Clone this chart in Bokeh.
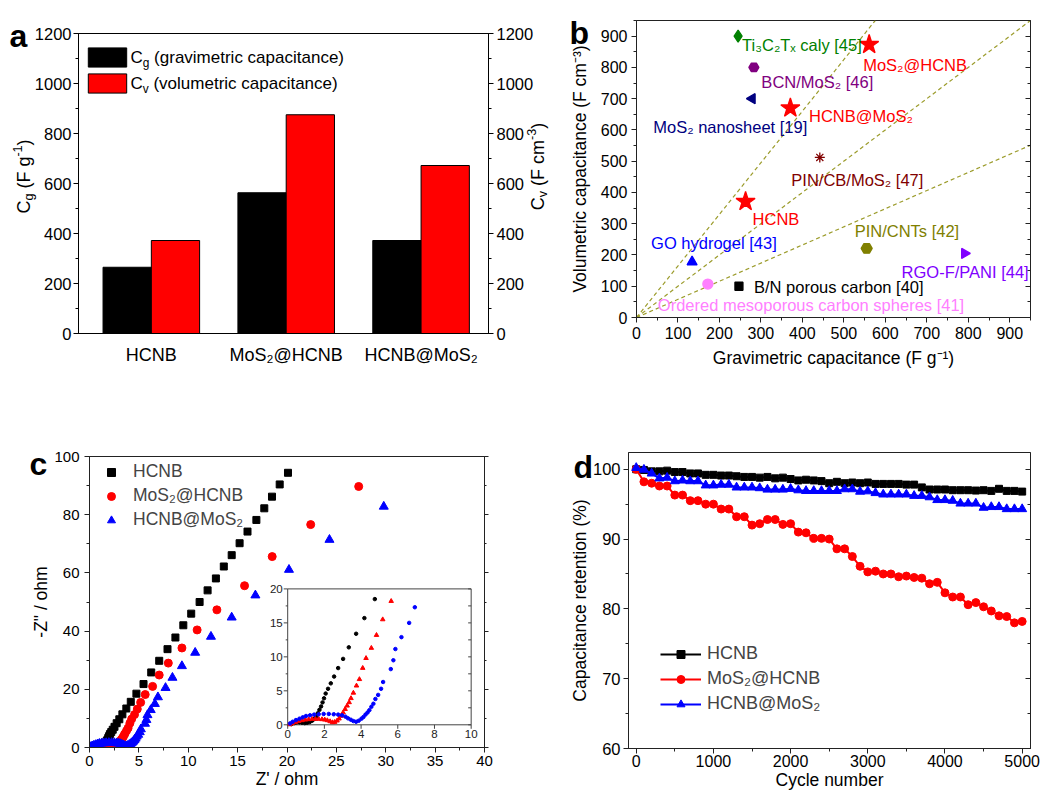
import numpy as np
from bokeh.plotting import figure
from bokeh.models import (Range1d, LinearAxis, FixedTicker, SingleIntervalTicker, Label,
                          Legend, LegendItem, Slope, ColumnDataSource, CustomJSTickFormatter, GridBox)
from bokeh.layouts import column
from bokeh.core.properties import value
from bokeh.embed import file_html
from bokeh.resources import INLINE

FONT = "Liberation Sans"

# ---------------- data ----------------
# (a) capacitance bars
cats_a = ["HCNB", "MoS₂@HCNB", "HCNB@MoS₂"]
cg_a = [265, 563, 372]
cv_a = [372, 875, 672]

# (b) comparison map
b_names = ["Ti₃C₂Tₓ caly [45]", "MoS₂@HCNB", "BCN/MoS₂ [46]", "MoS₂ nanosheet [19]",
           "HCNB@MoS₂", "PIN/CB/MoS₂ [47]", "HCNB", "PIN/CNTs [42]", "RGO-F/PANI [44]",
           "GO hydrogel [43]", "B/N porous carbon [40]", "Ordered mesoporous carbon spheres [41]"]
b_cg = [245, 561, 283, 279, 371, 442, 263, 555, 791, 134, 247, 172]
b_cv = [900, 873, 800, 700, 670, 512, 371, 221, 205, 178, 100, 107]
b_slopes = [1.65, 1.0, 0.58]

# (c) Nyquist plots
hcnb_zr = [0.2, 0.35, 0.49, 0.64, 0.78, 0.93, 1.07, 1.2, 1.33, 1.45, 1.55, 1.64, 1.73, 1.82, 1.9,
           1.98, 2.07, 2.2, 2.35, 2.53, 2.75, 3.02, 3.33, 3.73, 4.18, 4.75, 5.47, 6.25, 7.06, 7.9,
           8.7, 9.5, 10.3, 11.15, 11.96, 12.8, 13.6, 14.4, 15.2, 16.0, 16.9, 17.7, 18.48, 19.26, 20.1]
hcnb_zi = [0.1, 0.25, 0.35, 0.35, 0.3, 0.25, 0.3, 0.4, 0.6, 0.85, 1.2, 1.7, 2.2, 2.7, 3.3,
           3.9, 4.6, 5.3, 6.1, 7.1, 8.35, 9.7, 11.4, 13.4, 15.7, 18.5, 21.8, 25.8, 29.8, 33.8,
           37.8, 42.0, 46.0, 50.0, 54.0, 58.1, 62.2, 66.1, 70.2, 74.2, 78.2, 82.2, 86.2, 90.4, 94.4]
mh_zr = [0.1, 0.24, 0.42, 0.6, 0.78, 0.96, 1.15, 1.33, 1.51, 1.69, 1.87, 2.02, 2.16, 2.31, 2.44,
         2.56, 2.69, 2.8, 2.91, 3.02, 3.13, 3.24, 3.35, 3.45, 3.58, 3.75, 3.91, 4.09, 4.27, 4.56,
         4.84, 5.18, 5.64, 6.39, 7.06, 7.98, 9.36, 10.9, 12.9, 15.7, 18.5, 22.4, 27.26]
mh_zi = [0.05, 0.2, 0.4, 0.55, 0.65, 0.75, 0.8, 0.85, 0.85, 0.85, 0.8, 0.75, 0.65, 0.5, 0.35,
         0.4, 0.6, 0.9, 1.3, 1.8, 2.3, 2.8, 3.3, 3.9, 4.7, 5.75, 6.7, 8.35, 9.8, 11.3,
         13.2, 15.5, 18.2, 21.0, 24.9, 29.0, 34.2, 40.4, 47.3, 55.6, 65.6, 76.6, 89.7]
hm_zr = [0.13, 0.27, 0.45, 0.64, 0.82, 1.0, 1.22, 1.44, 1.69, 1.96, 2.24, 2.51, 2.75, 2.96, 3.15,
         3.29, 3.44, 3.58, 3.73, 3.87, 4.02, 4.13, 4.24, 4.35, 4.45, 4.56, 4.67, 4.78, 4.93, 5.09,
         5.2, 5.62, 5.76, 5.87, 6.2, 6.62, 6.93, 7.7, 8.4, 9.36, 10.7, 12.3, 14.4, 16.8, 20.2, 24.3, 29.8]
hm_zi = [0.2, 0.45, 0.7, 0.9, 1.1, 1.3, 1.4, 1.5, 1.55, 1.6, 1.6, 1.55, 1.5, 1.4, 1.2,
         0.95, 0.75, 0.55, 0.45, 0.6, 0.9, 1.15, 1.5, 1.8, 2.15, 2.65, 3.1, 3.8, 4.4, 5.3,
         6.3, 8.2, 9.5, 11.15, 12.9, 15.0, 17.3, 20.5, 24.0, 28.0, 32.6, 38.1, 44.7, 52.3, 61.1, 71.4, 82.8]
inset_xlim = [0, 10]
inset_ylim = [0, 20]
inset_xticks = [0, 2, 4, 6, 8, 10]
inset_yticks = [0, 5, 10, 15, 20]
inset_yminor = [2.5, 7.5, 12.5, 17.5]

# (d) cycling stability
cycles = [0, 100, 200, 300, 400, 500, 600, 700, 800, 900, 1000, 1100, 1200, 1300, 1400, 1500,
          1600, 1700, 1800, 1900, 2000, 2100, 2200, 2300, 2400, 2500, 2600, 2700, 2800, 2900,
          3000, 3100, 3200, 3300, 3400, 3500, 3600, 3700, 3800, 3900, 4000, 4100, 4200, 4300,
          4400, 4500, 4600, 4700, 4800, 4900, 5000]
ret_hcnb = [100.0, 99.9, 99.7, 99.7, 99.8, 99.6, 99.6, 99.4, 99.4, 99.2, 99.2, 99.1, 99.1, 99.0,
            98.9, 98.9, 98.8, 98.9, 98.7, 98.8, 98.6, 98.4, 98.5, 98.4, 98.3, 98.0, 98.2, 98.0,
            98.1, 98.0, 98.1, 97.9, 97.9, 97.9, 97.9, 97.8, 97.8, 97.4, 97.1, 97.1, 97.1, 97.0,
            97.0, 97.0, 96.95, 97.0, 96.9, 97.2, 96.9, 96.9, 96.8]
ret_mh = [100.0, 98.2, 98.0, 97.6, 97.6, 96.3, 96.3, 95.5, 95.5, 95.0, 95.0, 94.3, 94.3, 93.2,
          93.2, 92.0, 92.2, 92.8, 92.8, 92.1, 92.2, 91.0, 90.9, 90.1, 90.1, 90.0, 88.6, 88.6,
          87.5, 86.1, 85.3, 85.4, 85.0, 85.0, 84.6, 84.7, 84.5, 84.4, 83.6, 83.8, 82.3, 81.7,
          81.7, 80.6, 80.9, 80.3, 79.7, 79.0, 78.9, 78.0, 78.2]
ret_hm = [100.2, 99.95, 99.4, 98.7, 98.8, 98.3, 98.4, 98.3, 98.3, 97.7, 97.7, 97.8, 97.8, 97.4,
          97.4, 97.4, 97.3, 97.1, 97.1, 97.1, 97.2, 97.0, 96.9, 96.9, 96.9, 96.9, 96.9, 97.15,
          97.15, 96.8, 96.85, 96.6, 96.4, 96.4, 96.4, 96.4, 96.2, 96.2, 96.0, 95.6, 95.6, 95.5,
          95.1, 95.1, 95.1, 94.5, 94.6, 94.6, 94.3, 94.3, 94.3]

# ---------------- styles for (b) ----------------
b_markers = ["diamond", "star", "hex", "triangle", "star", "asterisk", "star", "hex",
             "triangle", "triangle", "square", "circle"]
b_angles = [0, 0, 0, np.pi / 2, 0, 0, 0, 0, -np.pi / 2, 0, 0, 0]
b_sizes = [12, 20, 10, 10, 20, 10, 20, 11, 10, 10, 8, 10]
b_colors = ["#008000", "#ff0000", "#800080", "#000080", "#ff0000", "#800000", "#ff0000",
            "#808000", "#8000ff", "#0000ff", "#000000", "#ff80ff"]
b_dx = [4, -6, 7.5, -99, 18.6, -28.5, 7, -12, -63, -41, 15, -50]
b_dy = [9, 20, 15, 28.5, 7.5, 23, 17.5, -17, 19, -19, 1, 21]

# ---------------- helpers ----------------
AW = {' ': 278, '(': 333, ')': 333, '-': 333, '/': 278, '@': 1015, '[': 278, ']': 278, '%': 889,
      'C': 722, 'F': 611, 'a': 556, 'b': 556, 'c': 500, 'd': 556, 'e': 556, 'g': 556, 'i': 222,
      'l': 222, 'm': 833, 'n': 556, 'o': 556, 'p': 556, 'r': 333, 's': 500, 't': 278, 'u': 556,
      'v': 500, 'y': 500}


def tw(s, size):
    return sum(AW.get(ch, 556) for ch in s) * size / 1000.0


def rich(p, segs, x, y, size, vertical=False, align="center", color="black"):
    """Text with sub/superscripts; (x, y) in page pixels (y downward)."""
    small = size * 0.7
    items, total = [], 0.0
    for t, k in segs:
        s = size if k == "n" else small
        w = tw(t, s)
        items.append((t, k, s, w))
        total += w
    pos = -total / 2 if align == "center" else 0.0
    for t, k, s, w in items:
        lead = len(t) - len(t.lstrip(" "))
        txt = t.strip(" ")
        off = tw(" " * lead, s)
        shift = {"n": 0.0, "sub": -0.3 * size, "sup": 0.32 * size}[k]
        if not vertical:
            lx, ly, ang = x + pos + off, y - shift, 0.0
        else:
            lx, ly, ang = x - shift, y - (pos + off), np.pi / 2
        p.add_layout(Label(x=lx, y=ly, text=txt, angle=ang,
                           text_align="left", text_baseline="middle", text_font=FONT,
                           text_font_size=f"{s:.1f}px", text_color=color))
        pos += w


def make_fig(fw, fh, xr, yr, bl, br, bt, bb, outline="black"):
    p = figure(frame_width=fw, frame_height=fh, x_range=xr, y_range=yr,
               min_border_left=bl, min_border_right=br, min_border_top=bt, min_border_bottom=bb,
               output_backend="svg", toolbar_location=None, title=None)
    p.xgrid.visible = False
    p.ygrid.visible = False
    p.outline_line_color = outline
    p.outline_line_alpha = 1.0
    p.background_fill_color = "white"
    p.border_fill_color = "white"
    return p


def style_axis(ax, tick_size, label_size=17, color="black", tout=5, tin=0, mout=3, mint=0,
               standoff=3, lstandoff=0):
    ax.axis_line_color = color
    ax.major_tick_line_color = color
    ax.minor_tick_line_color = color
    ax.major_tick_out = tout
    ax.major_tick_in = tin
    ax.minor_tick_out = mout
    ax.minor_tick_in = mint
    ax.major_label_text_font = FONT
    ax.major_label_text_font_size = f"{tick_size}px"
    ax.major_label_text_color = "black"
    ax.major_label_standoff = standoff
    ax.axis_label_text_font = FONT
    ax.axis_label_text_font_size = f"{label_size}px"
    ax.axis_label_text_font_style = "normal"
    ax.axis_label_text_color = "black"
    ax.axis_label_standoff = lstandoff


empty_fmt = CustomJSTickFormatter(code="return ''")
AX = "#222222"

# ---------------- panel a ----------------
pa = make_fig(410, 300, Range1d(0.46, 3.5), Range1d(0, 1200), 78, 72, 33, 45)
pa.extra_y_ranges = {"cv": Range1d(0, 1200)}
xa = np.arange(1, len(cats_a) + 1)
bw = 0.358
r_cg = pa.vbar(x=xa - bw / 2, width=bw, top=cg_a, fill_color="black", line_color="black")
r_cv = pa.vbar(x=xa + bw / 2, width=bw, top=cv_a, fill_color="#ff0000", line_color="black",
               y_range_name="cv")
xax = pa.xaxis[0]
xax.ticker = FixedTicker(ticks=[float(v) for v in xa])
xax.major_label_overrides = {int(v): c for v, c in zip(xa, cats_a)}
style_axis(xax, 18, tout=0, mout=0, standoff=11)
yax = pa.yaxis[0]
yax.ticker = SingleIntervalTicker(interval=200, num_minor_ticks=2)
style_axis(yax, 16.5, standoff=2)
rax = LinearAxis(y_range_name="cv", ticker=SingleIntervalTicker(interval=200, num_minor_ticks=2))
style_axis(rax, 16.5, standoff=3)
pa.add_layout(rax, "right")
leg_a = Legend(items=[LegendItem(label=" ", renderers=[r_cg]), LegendItem(label=" ", renderers=[r_cv])],
               location=(4.5, 238), padding=0, margin=0, spacing=2, glyph_width=48, glyph_height=24,
               label_height=24, label_standoff=0, border_line_alpha=0, background_fill_alpha=0,
               label_text_font_size="10px")
pa.add_layout(leg_a)

# ---------------- panel b ----------------
pb = make_fig(394, 297, Range1d(0, 950), Range1d(0, 950), 76, 15, 20, 61, outline=AX)
for s in b_slopes:
    pb.add_layout(Slope(gradient=s, y_intercept=0, line_color="#9c9c2c", line_dash="4 3",
                        line_width=1.2, level="underlay"))
src_b = ColumnDataSource(dict(x=b_cg, y=b_cv, name=b_names, marker=b_markers, color=b_colors,
                              size=b_sizes, angle=b_angles, dx=b_dx, dy=b_dy))
pb.scatter(x="x", y="y", marker="marker", size="size", angle="angle", fill_color="color",
           line_color="color", line_width=1.3, source=src_b)
pb.text(x="x", y="y", text="name", x_offset="dx", y_offset="dy", text_color="color",
        text_font=value(FONT), text_font_size=value("16.5px"), text_baseline="middle",
        text_align="left", source=src_b)
bx = pb.xaxis[0]
bx.ticker = SingleIntervalTicker(interval=100, num_minor_ticks=2)
bx.axis_label = "Gravimetric capacitance (F g⁻¹)"
style_axis(bx, 16, 17.5, color=AX, standoff=4, lstandoff=6)
by = pb.yaxis[0]
by.ticker = SingleIntervalTicker(interval=100, num_minor_ticks=2)
by.axis_label = "Volumetric capacitance (F cm⁻³)"
style_axis(by, 16, 17.5, color=AX, standoff=4, lstandoff=8)
brax = LinearAxis(ticker=SingleIntervalTicker(interval=100, num_minor_ticks=2), formatter=empty_fmt)
style_axis(brax, 10, color=AX, tout=0, tin=5, mout=0, mint=3, standoff=0)
pb.add_layout(brax, "right")

# ---------------- panel c ----------------
pc = make_fig(395, 291, Range1d(0, 40), Range1d(0, 100), 89, 76, 78, 45, outline=AX)
rc1 = pc.scatter(hcnb_zr, hcnb_zi, marker="square", size=7, color="black")
rc2 = pc.scatter(mh_zr, mh_zi, marker="circle", size=8, color="#ff0000")
rc3 = pc.scatter(hm_zr, hm_zi, marker="triangle", size=9, color="#0000ff")
cx = pc.xaxis[0]
cx.ticker = SingleIntervalTicker(interval=5, num_minor_ticks=2)
cx.axis_label = "Z' / ohm"
style_axis(cx, 15, 17.5, color=AX, standoff=3, lstandoff=0)
cy = pc.yaxis[0]
cy.ticker = SingleIntervalTicker(interval=20, num_minor_ticks=2)
cy.axis_label = '-Z" / ohm'
style_axis(cy, 15, 17.5, color=AX, standoff=5, lstandoff=0)
crax = LinearAxis(ticker=SingleIntervalTicker(interval=20, num_minor_ticks=2), formatter=empty_fmt)
style_axis(crax, 10, color=AX, tout=4, tin=0, mout=2, mint=0, standoff=0)
pc.add_layout(crax, "right")

# inset (sub-coordinate system inside panel c)
sub = pc.subplot(x_source=Range1d(*inset_xlim), y_source=Range1d(*inset_ylim),
                 x_target=Range1d(20.07, 38.65), y_target=Range1d(7.8, 54.5))
sub.quad(left=[inset_xlim[0]], right=[inset_xlim[1]], bottom=[inset_ylim[0]], top=[inset_ylim[1]],
         fill_color="white", line_color="#444444", line_width=1)


def in_inset(xs, ys):
    xs, ys = np.asarray(xs), np.asarray(ys)
    m = (xs <= inset_xlim[1]) & (ys <= inset_ylim[1])
    return xs[m], ys[m]


ix, iy = in_inset(hcnb_zr, hcnb_zi)
sub.scatter(ix, iy, marker="circle", size=3.5, color="black")
ix, iy = in_inset(mh_zr, mh_zi)
sub.scatter(ix, iy, marker="triangle", size=4.5, color="#ff0000")
ix, iy = in_inset(hm_zr, hm_zi)
sub.scatter(ix, iy, marker="circle", size=3.5, color="#0000ff")
sub.ray(x=inset_xticks, y=[inset_ylim[0]] * len(inset_xticks), length=4, length_units="screen",
        angle=-np.pi / 2, line_color="#444444")
sub.ray(x=[inset_xlim[0]] * len(inset_yticks), y=inset_yticks, length=4, length_units="screen",
        angle=np.pi, line_color="#444444")
sub.ray(x=[inset_xlim[0]] * len(inset_yminor), y=inset_yminor, length=2, length_units="screen",
        angle=np.pi, line_color="#444444")
sub.ray(x=[inset_xlim[1]] * len(inset_yticks + inset_yminor), y=inset_yticks + inset_yminor,
        length=3, length_units="screen", angle=np.pi, line_color="#444444")
sub.text(x=inset_xticks, y=[inset_ylim[0]] * len(inset_xticks), text=[str(t) for t in inset_xticks],
         y_offset=5, text_align="center", text_baseline="top", text_font=value(FONT),
         text_font_size=value("11.5px"), text_color="#222222")
sub.text(x=[inset_xlim[0]] * len(inset_yticks), y=inset_yticks, text=[str(t) for t in inset_yticks],
         x_offset=-5, text_align="right", text_baseline="middle", text_font=value(FONT),
         text_font_size=value("11.5px"), text_color="#222222")

leg_c = Legend(items=[LegendItem(label="HCNB", renderers=[rc1]),
                      LegendItem(label="MoS₂@HCNB", renderers=[rc2]),
                      LegendItem(label="HCNB@MoS₂", renderers=[rc3])],
               location=(12, 217), padding=0, margin=0, spacing=3, glyph_width=20, glyph_height=20,
               label_height=20, label_standoff=12, border_line_alpha=0, background_fill_alpha=0,
               label_text_font=FONT, label_text_font_size="17.5px")
pc.add_layout(leg_c)

# ---------------- panel d ----------------
pdd = make_fig(402, 296, Range1d(-100, 5108), Range1d(60, 102.4), 68, 15, 74, 44, outline=AX)
l1 = pdd.line(cycles, ret_hcnb, line_color="black", line_width=2)
s1 = pdd.scatter(cycles, ret_hcnb, marker="square", size=7, color="black")
l2 = pdd.line(cycles, ret_mh, line_color="#ff0000", line_width=2)
s2 = pdd.scatter(cycles, ret_mh, marker="circle", size=8, color="#ff0000")
l3 = pdd.line(cycles, ret_hm, line_color="#0000ff", line_width=2)
s3 = pdd.scatter(cycles, ret_hm, marker="triangle", size=9, color="#0000ff")
dx_ = pdd.xaxis[0]
dx_.ticker = SingleIntervalTicker(interval=1000, num_minor_ticks=2)
dx_.axis_label = "Cycle number"
style_axis(dx_, 16, 17.5, color=AX, standoff=1, lstandoff=0)
dy_ = pdd.yaxis[0]
dy_.ticker = SingleIntervalTicker(interval=10, num_minor_ticks=2)
dy_.axis_label = "Capacitance retention (%)"
style_axis(dy_, 16.5, 17.5, color=AX, standoff=3, lstandoff=0)
drax = LinearAxis(ticker=SingleIntervalTicker(interval=10, num_minor_ticks=2), formatter=empty_fmt)
style_axis(drax, 10, color=AX, tout=0, tin=5, mout=0, mint=3, standoff=0)
pdd.add_layout(drax, "right")
leg_d = Legend(items=[LegendItem(label="HCNB", renderers=[l1, s1]),
                      LegendItem(label="MoS₂@HCNB", renderers=[l2, s2]),
                      LegendItem(label="HCNB@MoS₂", renderers=[l3, s3])],
               location=(32, 34), padding=0, margin=0, spacing=4, glyph_width=41, glyph_height=20,
               label_height=20, label_standoff=6, border_line_alpha=0, background_fill_alpha=0,
               label_text_font=FONT, label_text_font_size="18px")
pdd.add_layout(leg_d)

# ---------------- transparent overlay for texts outside the plot frames ----------------
PW, PH = 1045, 792
ov = figure(frame_width=PW, frame_height=PH, x_range=Range1d(0, PW), y_range=Range1d(PH, 0),
            min_border_left=0, min_border_right=0, min_border_top=0, min_border_bottom=0,
            output_backend="svg", toolbar_location=None, title=None,
            x_axis_location=None, y_axis_location=None)
ov.xgrid.visible = False
ov.ygrid.visible = False
ov.outline_line_color = None
ov.background_fill_color = None
ov.border_fill_color = None

for letter, lx, ly in [("a", 9, 35), ("b", 569, 32), ("c", 29, 463), ("d", 573, 466)]:
    ov.add_layout(Label(x=lx, y=ly, text=letter, text_font=FONT, text_font_style="bold",
                        text_font_size="32px", text_baseline="alphabetic", text_align="left",
                        text_color="black"))

rich(ov, [("C", "n"), ("g", "sub"), (" (gravimetric capacitance)", "n")], 130, 57, 17, align="left")
rich(ov, [("C", "n"), ("v", "sub"), (" (volumetric capacitance)", "n")], 130, 83, 17, align="left")
rich(ov, [("C", "n"), ("g", "sub"), (" (F g", "n"), ("-1", "sup"), (")", "n")], 23, 176, 18,
     vertical=True)
rich(ov, [("C", "n"), ("v", "sub"), (" (F cm", "n"), ("-3", "sup"), (")", "n")], 537, 166, 18,
     vertical=True)

grid = GridBox(children=[(column(pa), 0, 0), (column(pb), 0, 1), (column(pc), 1, 0),
                         (column(pdd), 1, 1), (column(ov), 0, 0, 2, 2)])
open("out.html", "w").write(file_html(grid, INLINE))
